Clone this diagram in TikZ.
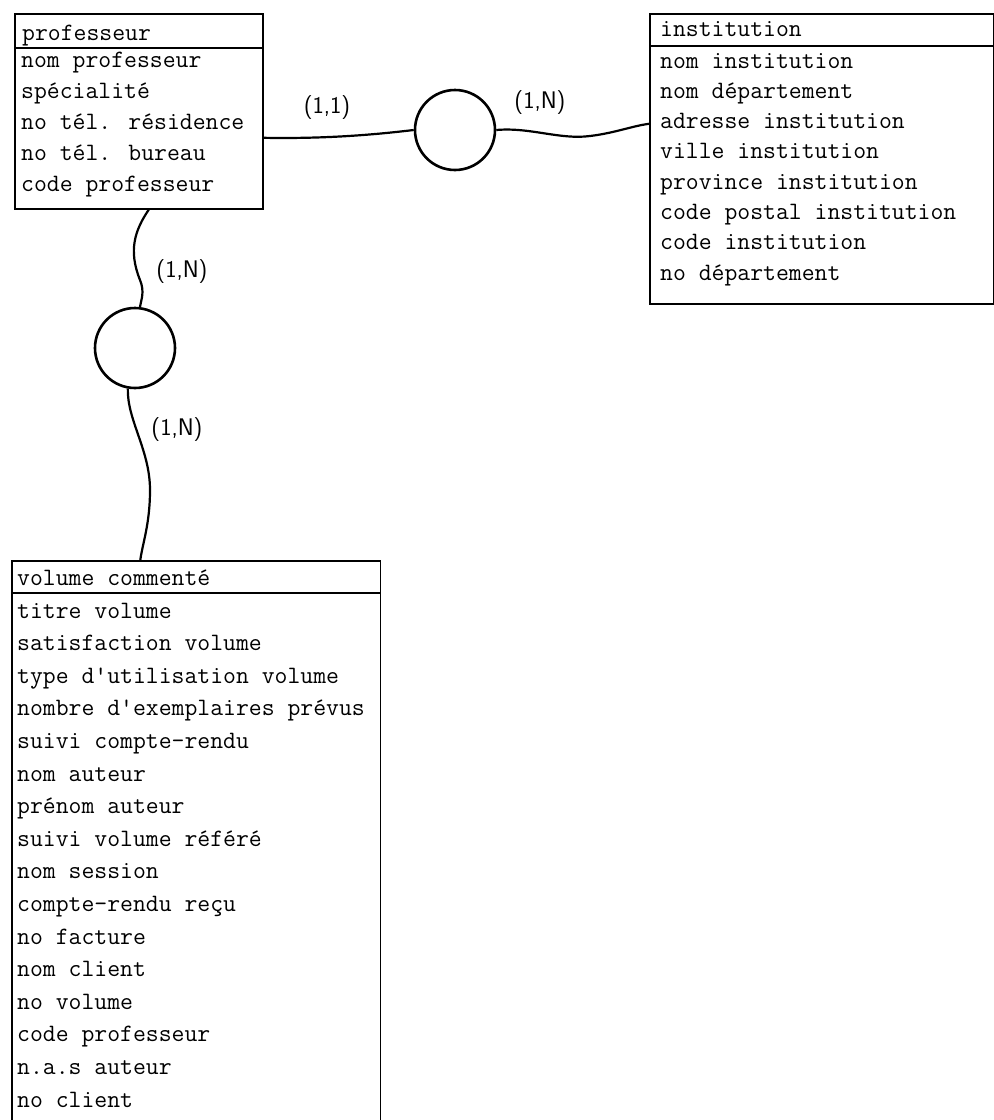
\documentclass[tikz,border=0pt]{standalone}
\usepackage{fontspec}
\begin{document}
\begin{tikzpicture}[x=1pt,y=-1pt,
  box/.style={draw, line width=1.6pt, inner sep=0pt, anchor=north west},
  hdr/.style={line width=2.2pt},
  fld/.style={anchor=base west, inner sep=0pt, font=\fontsize{25}{25}\selectfont\ttfamily\addfontfeatures{FakeBold=0.8}},
  rel/.style={circle, draw, line width=2.6pt, minimum size=80pt, inner sep=0pt},
  conn/.style={line width=2.2pt},
  card/.style={font=\fontsize{24}{24}\selectfont\sffamily, inner sep=0pt}]
\useasboundingbox (0,0) rectangle (994,1120);

% professeur
\node[box, minimum width=248pt, minimum height=195pt] (prof) at (14,13) {};
\draw[hdr] ([yshift=-35pt]prof.north west) -- ([yshift=-35pt]prof.north east);
\node[fld] (p0) at (22,40) {professeur};
\node[fld] (p1) at (21,67) {nom professeur};
\node[fld] (p2) at (21,98) {spécialité};
\node[fld] (p3) at (21,129) {no tél. résidence};
\node[fld] (p4) at (21,160) {no tél. bureau};
\node[fld] (p5) at (21,191) {code professeur};

% institution
\node[box, minimum width=344pt, minimum height=290pt] (inst) at (649,13) {};
\draw[hdr] ([yshift=-33pt]inst.north west) -- ([yshift=-33pt]inst.north east);
\node[fld] (i0) at (660,36) {institution};
\node[fld] (i1) at (660,68) {nom institution};
\node[fld] (i2) at (660,98.3) {nom département};
\node[fld] (i3) at (660,128.6) {adresse institution};
\node[fld] (i4) at (660,158.9) {ville institution};
\node[fld] (i5) at (660,189.2) {province institution};
\node[fld] (i6) at (660,219.5) {code postal institution};
\node[fld] (i7) at (660,249.8) {code institution};
\node[fld] (i8) at (660,280.1) {no département};

% volume commenté
\node[anchor=north west, minimum width=368pt, minimum height=575pt, inner sep=0pt] (vol) at (12,561) {};
\draw[line width=1.6pt] (vol.south west) -- (vol.north west) -- (vol.north east) -- (vol.south east);
\draw[hdr] ([yshift=-32pt]vol.north west) -- ([yshift=-32pt]vol.north east);
\node[fld] (v0) at (17,585) {volume commenté};
\node[fld] (v1) at (17,618) {titre volume};
\node[fld] (v2) at (17,650.6) {satisfaction volume};
\node[fld] (v3) at (17,683.2) {type d'utilisation volume};
\node[fld] (v4) at (17,715.8) {nombre d'exemplaires prévus};
\node[fld] (v5) at (17,748.4) {suivi compte-rendu};
\node[fld] (v6) at (17,781) {nom auteur};
\node[fld] (v7) at (17,813.6) {prénom auteur};
\node[fld] (v8) at (17,846.2) {suivi volume référé};
\node[fld] (v9) at (17,878.8) {nom session};
\node[fld] (v10) at (17,911.4) {compte-rendu reçu};
\node[fld] (v11) at (17,944) {no facture};
\node[fld] (v12) at (17,976.6) {nom client};
\node[fld] (v13) at (17,1009.2) {no volume};
\node[fld] (v14) at (17,1041.8) {code professeur};
\node[fld] (v15) at (17,1074.4) {n.a.s auteur};
\node[fld] (v16) at (17,1107) {no client};

% relationships
\node[rel] (r1) at (455,130) {};
\node[rel] (r2) at (135,348) {};

% connectors
\draw[conn] ([yshift=-26.5pt]prof.east) .. controls (330,139) and (380,134) .. (r1.west);
\draw[conn] (r1.east) .. controls (530,127) and (560,140) .. (590,136) .. controls (615,133) and (632,126) .. ([yshift=35pt]inst.west);
\draw[conn] ([xshift=10pt]prof.south) .. controls (135,230) and (128,250) .. (140,280) .. controls (145,292) and (141,300) .. (r2.83);
\draw[conn] (r2.-100) .. controls (127,420) and (150,450) .. (150,490) .. controls (150,525) and (142,545) .. ([xshift=-56pt]vol.north);

% cardinalities
\node[card] (k1) at (327,108) {(1,1)};
\node[card] (k2) at (540,103) {(1,N)};
\node[card] (k3) at (182,272) {(1,N)};
\node[card] (k4) at (177,430) {(1,N)};
\end{tikzpicture}
\end{document}
